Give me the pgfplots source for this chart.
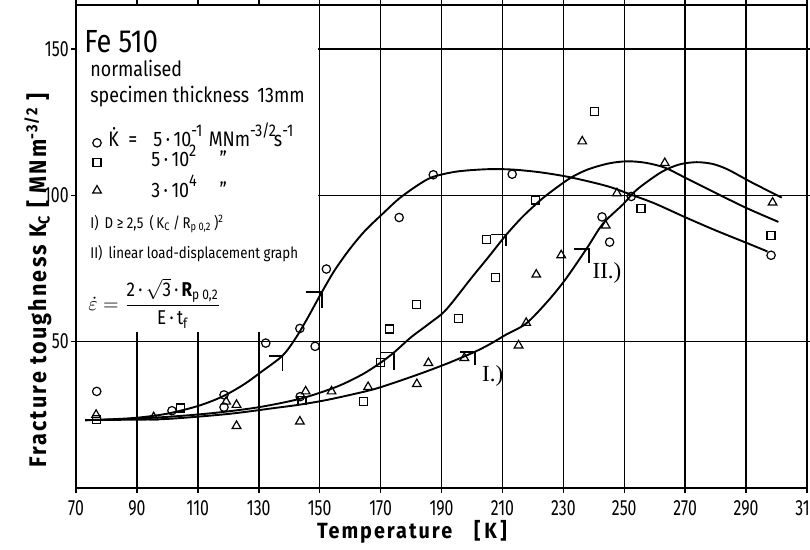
\documentclass[border=0pt]{standalone}
\usepackage{fontspec}
\setmainfont{Fira Sans}[FakeStretch=0.85]
\newfontfamily\tickfont{Fira Sans}[FakeStretch=0.72]
\newfontfamily\labfont{Fira Sans}[FakeStretch=0.9,LetterSpace=9]
\newfontfamily\romfont{Liberation Serif}
\usepackage{amsmath}
\usepackage{pgfplots}
\pgfplotsset{compat=1.18}
\usetikzlibrary{calc}
\newcommand\up[1]{\raisebox{0.95ex}{\fontsize{8.5}{10}\selectfont #1}}

\begin{document}
\begin{tikzpicture}
\begin{axis}[
  scale only axis, width=365.5pt, height=241.5pt,
  xmin=70, xmax=310, ymin=0, ymax=165,
  xtick={70,90,...,310}, ytick={50,100,150},
  grid=major, grid style={black, line width=0.75pt},
  axis line style={line width=1.1pt},
  tick align=outside, major tick length=2.5pt,
  tick style={black, line width=0.75pt},
  tick label style={font=\tickfont\fontsize{11}{13}\selectfont},
  /pgf/number format/assume math mode=true,
  yticklabel style={inner sep=1pt},
  clip=false,
]
\coordinate (bbSW) at (rel axis cs:0,0);
\coordinate (bbNE) at (rel axis cs:1,1);
% white panel behind the annotations
\fill[white] (axis cs:70.35,53.3) rectangle (axis cs:149.45,164.7);

% fitted curves
\addplot[line width=0.95pt, smooth, tension=0.5] coordinates {
  (73,23.2) (80,23.4) (90,24) (100,25.4) (110,28) (118,31.2) (125,35.3)
  (131,39.8) (137.8,45.2) (142,51) (146,58) (150.7,66.9) (155,74.5)
  (160,81.8) (165,88) (171,94) (176,98.8) (182,103.3) (187,106.2)
  (195,108.1) (205,108.9) (213,108.8) (222,107.9) (231,106.4) (240,104.3)
  (246,102.6) (252,100.3) (260,97.2) (270,92.5) (280,88) (290,83.8) (297,80.8)
};
\addplot[line width=0.95pt, smooth, tension=0.5] coordinates {
  (73,23.2) (85,23.5) (100,24.3) (115,25.6) (130,27.6) (144,30.6) (155.6,34.6)
  (164,38.8) (170,42.8) (174.4,46.3) (180,51.5) (186,56.2) (191.5,60.9)
  (200,72) (205.5,79) (211,86.2) (216,92) (220,96) (224.2,99.8) (232,105.7)
  (238,108.8) (245,110.9) (251,111.6) (257,111.1) (263.4,109.4) (270,106)
  (280,100.8) (290,95.7) (300.6,90.9)
};
\addplot[line width=0.95pt, smooth, tension=0.5] coordinates {
  (73,23.2) (85,23.3) (100,23.6) (120,25.3) (135,27.3) (143,28.4) (151.5,29.9)
  (160,31.8) (168,33.8) (176,36.5) (185,39.8) (193,43) (200.9,46.5) (206,49.2)
  (211.2,52.4) (217.8,56.2) (224.7,63.6) (230.5,71) (237.6,81.7) (243,90.3)
  (249.6,96.9) (254,101.8) (262,107.8) (268,110.5) (273.7,111.3) (279,110.7)
  (284,108.8) (292,104.3) (301.7,99.2)
};

% validity limits I) and II)
\addplot[line width=0.95pt] coordinates {(133.4,45.2) (137.8,45.2) (137.8,39.8)};
\addplot[line width=0.95pt] coordinates {(145.4,66.9) (150.7,66.9) (150.7,61.5)};
\addplot[line width=0.95pt] coordinates {(169.8,46.3) (174.4,46.3) (174.4,40.4)};
\addplot[line width=0.95pt] coordinates {(206.3,86.6) (211.1,86.6) (211.1,82.8)};
\addplot[line width=0.95pt] coordinates {(196.0,46.5) (200.9,46.5) (200.9,42.1)};
\addplot[line width=0.95pt] coordinates {(233.4,81.7) (238.3,81.7) (238.3,76.9)};

% measured points
\addplot[only marks, mark=o, mark size=2.1pt, mark options={line width=0.6pt}] coordinates {
  (76.8,33.0) (101.5,26.4) (118.6,31.8) (118.6,27.6) (132.3,49.5) (143.5,54.5)
  (143.6,31.2) (148.5,48.4) (152.2,74.8) (176.1,92.4) (187.3,107.0) (213.2,107.2)
  (242.7,92.6) (245.2,84.0) (252.3,99.6) (298.2,79.5)
};
\addplot[only marks, mark=square, mark size=2pt, mark options={line width=0.6pt}] coordinates {
  (76.6,23.3) (104.2,27.3) (144.2,30.0) (164.3,29.6) (170.0,43.0) (172.9,54.3)
  (181.9,62.7) (195.6,57.9) (204.9,84.9) (207.7,71.8) (220.8,98.4) (240.2,128.7)
  (255.5,95.4) (298.2,86.3)
};
\addplot[only marks, mark=triangle, mark size=2.5pt, mark options={line width=0.6pt}] coordinates {
  (76.6,25.0) (95.5,24.2) (119.3,29.5) (122.7,28.4) (122.7,21.2) (143.5,22.7)
  (145.4,33.0) (153.9,33.0) (165.9,34.5) (181.9,35.5) (185.7,42.7) (197.5,44.4)
  (215.3,48.7) (217.8,56.4) (221.1,72.9) (229.3,79.5) (236.2,118.4) (243.9,89.7)
  (247.6,100.7) (263.3,111.0) (298.7,97.5)
};

% legend symbols
\addplot[only marks, mark=o, mark size=2.1pt, mark options={line width=0.6pt}] coordinates {(76.9,117.9)};
\addplot[only marks, mark=square, mark size=2pt, mark options={line width=0.6pt}] coordinates {(76.9,111.2)};
\addplot[only marks, mark=triangle, mark size=2.5pt, mark options={line width=0.6pt}] coordinates {(76.9,101.6)};

% annotations
\begin{scope}[every node/.style={anchor=base west, inner sep=0pt}]
\node[font=\fontsize{16}{18}\selectfont] at (axis cs:72.6,148.8) {Fe 510};
\node[font=\fontsize{10.5}{12}\selectfont] at (axis cs:74.6,140.4) {normalised};
\node[font=\fontsize{10.5}{12}\selectfont] at (axis cs:74.6,131.8) {specimen thickness\, 13mm};
\node[font=\fontsize{10.5}{12}\selectfont] at (axis cs:80.5,116.5) {\.{K}};
\node[font=\fontsize{10.5}{12}\selectfont] at (axis cs:87.1,116.5) {=};
\node[font=\fontsize{10.5}{12}\selectfont] at (axis cs:95.3,116.5) {5\,·\,10\up{-1}\hspace{0.3em}MNm\up{-3/2}\hspace{-0.1em}s\up{-1}};
\node[font=\fontsize{10.5}{12}\selectfont] at (axis cs:94.6,109.7) {5\,·\,10\up{2}};
\node[font=\fontsize{10.5}{12}\selectfont] at (axis cs:117,109.7) {”};
\node[font=\fontsize{10.5}{12}\selectfont] at (axis cs:94.6,99.4) {3\,·\,10\up{4}};
\node[font=\fontsize{10.5}{12}\selectfont] at (axis cs:117,99.4) {”};
\node[font=\fontsize{7.8}{9}\selectfont] at (axis cs:74.6,88.7) {I)\, D ≥ 2,5\, (\,K\textsubscript{C}\,/\,R\textsubscript{p 0,2}\,)\textsuperscript{2}};
\node[font=\fontsize{7.8}{9}\selectfont] at (axis cs:74.6,78.4) {II)\, linear load-displacement graph};
\node[font=\romfont\fontsize{11.5}{13}\selectfont] at (axis cs:203.2,36.3) {I.)};
\node[font=\romfont\fontsize{11.5}{13}\selectfont] at (axis cs:239.5,71.6) {II.)};
\end{scope}
\node[anchor=west, inner sep=0pt, font=\fontsize{10}{11}\selectfont] at (axis cs:73.9,63.1)
  {$\dot{\varepsilon} = \dfrac{\text{2\,·\,}\sqrt{\text{3}}\text{\,·\,\bfseries R}_{\text{p 0,2}}}{\text{E\,·\,t}_{\text{f}}}$};

% axis titles
\node[rotate=90, font=\labfont\bfseries\fontsize{12}{14}\selectfont] at (axis cs:57.5,70.9)
  {Fracture toughness K\textsubscript{C} [ MNm\textsuperscript{-3/2} ]};
\node[anchor=base, font=\labfont\bfseries\fontsize{11}{13}\selectfont] at (axis cs:180.3,-17.3)
  {Temperature\quad[\,K\,]};
\end{axis}
\pgfresetboundingbox
\path[use as bounding box] ($(bbSW)+(-38pt,-30.5pt)$) rectangle ($(bbNE)+(1.5pt,2.5pt)$);
\end{tikzpicture}
\end{document}
